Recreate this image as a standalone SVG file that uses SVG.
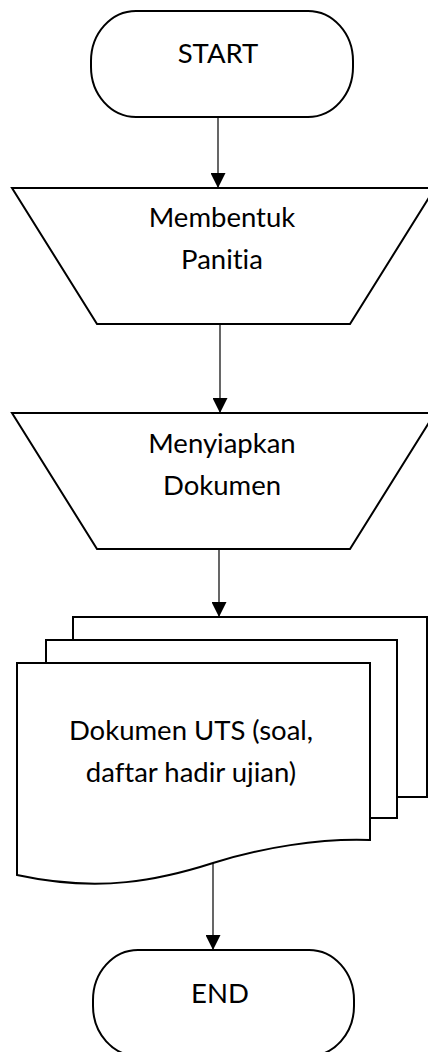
<svg xmlns="http://www.w3.org/2000/svg" width="428" height="1052" viewBox="0 0 428 1052">
<defs>
<marker id="arr" viewBox="0 0 10 10" refX="10" refY="5" markerWidth="15" markerHeight="15" markerUnits="userSpaceOnUse" orient="auto">
<path d="M0,0 L10,5 L0,10 Z" fill="#000"/>
</marker>
<style>
.shape{fill:#fff;stroke:#000;stroke-width:2}
.conn{stroke:#000;stroke-width:1.2;fill:none}
text{font-family:Lato,"Open Sans",sans-serif;font-size:27.5px;fill:#000;text-anchor:middle;font-variant-ligatures:none;font-feature-settings:"liga" 0}
</style>
</defs>
<g id="connectors">
<line class="conn" x1="218" y1="117" x2="218" y2="188" marker-end="url(#arr)"/>
<line class="conn" x1="220" y1="324" x2="220" y2="413" marker-end="url(#arr)"/>
<line class="conn" x1="219" y1="549" x2="219" y2="617" marker-end="url(#arr)"/>
<line class="conn" x1="213" y1="863" x2="213" y2="950" marker-end="url(#arr)"/>
</g>
<g id="start">
<rect class="shape" x="91" y="11" width="262" height="106" rx="45" ry="50"/>
<text x="218" y="63">START</text>
</g>
<g id="membentuk">
<polygon class="shape" points="12,188 435,188 350,324 97,324"/>
<text x="222" y="227">Membentuk</text>
<text x="222" y="269">Panitia</text>
</g>
<g id="menyiapkan">
<polygon class="shape" points="12,413 435,413 350,549 97,549"/>
<text x="222" y="453">Menyiapkan</text>
<text x="222" y="495">Dokumen</text>
</g>
<g id="dokumen">
<path class="shape" d="M73,640 V617 H427 V797 H397"/>
<path class="shape" d="M46,663 V640 H397 V818 H370"/>
<path class="shape" d="M17,663 H370 V840 C320,838 260,848 213,863 C160,880 100,893 17,875 Z"/>
<text x="191" y="740">Dokumen UTS (soal,</text>
<text x="191" y="782">daftar hadir ujian)</text>
</g>
<g id="end">
<rect class="shape" x="93" y="950" width="261" height="106" rx="45" ry="50"/>
<text x="220" y="1003">END</text>
</g>
</svg>
